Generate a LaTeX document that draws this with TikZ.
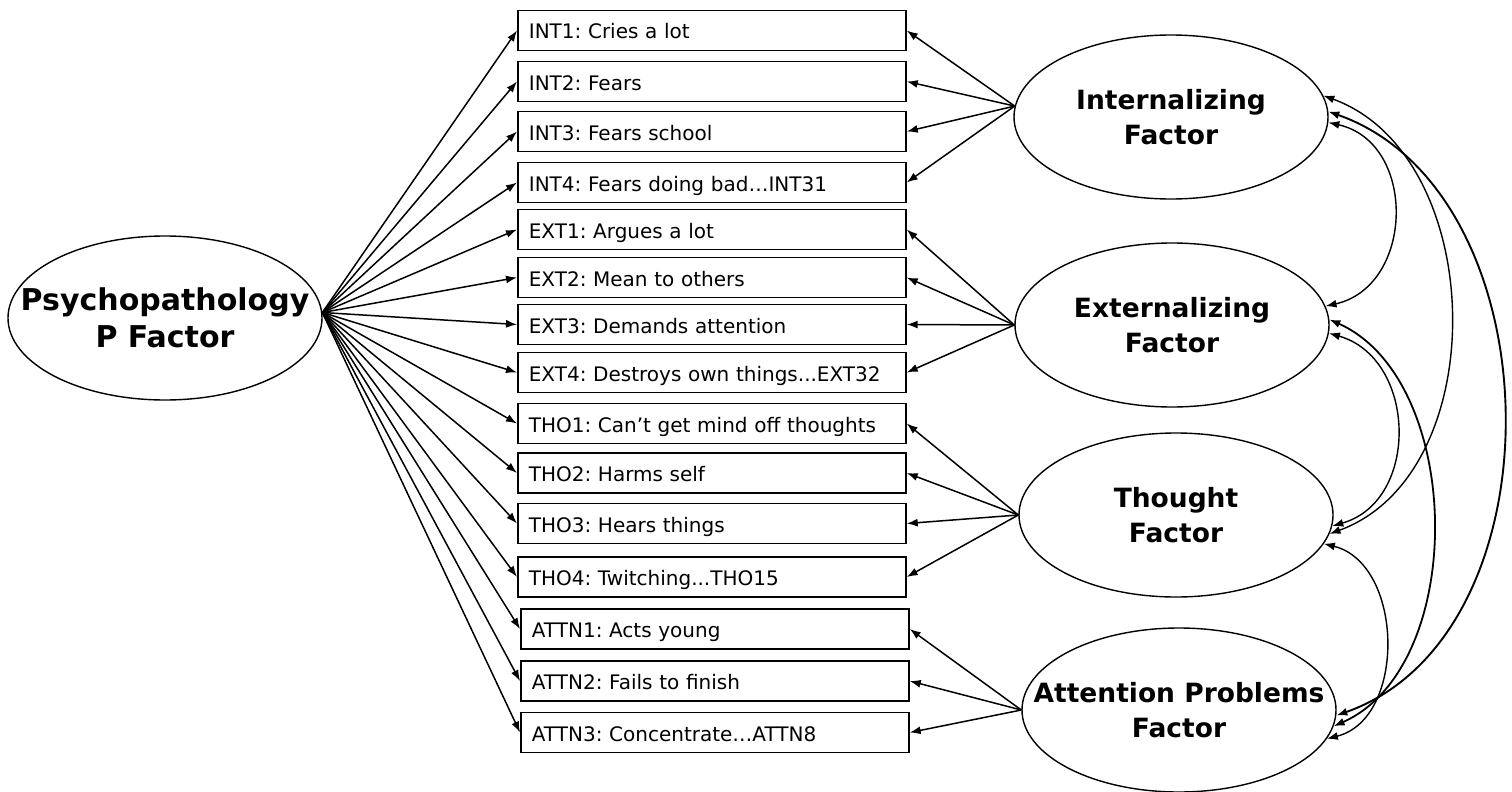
\documentclass[tikz,border=0pt]{standalone}
\usepackage{fontspec}
\setmainfont{DejaVu Sans}
\usetikzlibrary{shapes.geometric,arrows.meta}
\frenchspacing
\begin{document}
\begin{tikzpicture}[x=1pt,y=-1pt,
  item/.style={draw, line width=1.7pt, rectangle, minimum height=40pt, text width=366pt, align=left, inner xsep=11pt, inner ysep=0pt, text height=20pt, text depth=3pt, font=\fontsize{20}{24}\selectfont\frenchspacing, anchor=west},
  factor/.style={draw, line width=1.4pt, ellipse, minimum width=314pt, minimum height=164pt, inner sep=0pt},
  flabel/.style={align=center, font=\fontsize{26.5}{35}\selectfont\bfseries},
  plabel/.style={align=center, font=\fontsize{30}{37}\selectfont\bfseries},
  load/.style={line width=1.5pt, -{Latex[length=11pt,width=8pt]}},
  cov/.style={line width=1.4pt, {Latex[length=11pt,width=8pt]}-{Latex[length=11pt,width=8pt]}},
]
\useasboundingbox (0,0) rectangle (1512,792);

% factors
\node[factor] (P) at (165,318) {};
\node[plabel] (Pt) at (P.center) {Psychopathology\\P Factor};
\node[factor] (I) at (1171,117) {};
\node[flabel] (It) at (I.center) {Internalizing\\Factor};
\node[factor] (E) at (1172,325) {};
\node[flabel] (Et) at (E.center) {Externalizing\\Factor};
\node[factor] (T) at (1176,515) {};
\node[flabel] (Tt) at (T.center) {Thought\\Factor};
\node[factor] (A) at (1179,710) {};
\node[flabel] (At) at (A.center) {Attention Problems\\Factor};

% items
\node[item] (int1) at (517,30.5) {INT1: Cries a lot};
\node[item] (int2) at (517,81.5) {INT2: Fears};
\node[item] (int3) at (517,131.5) {INT3: Fears school};
\node[item] (int4) at (517,182.5) {INT4: Fears doing bad…INT31};
\node[item] (ext1) at (517,229.5) {EXT1: Argues a lot};
\node[item] (ext2) at (517,277.5) {EXT2: Mean to others};
\node[item] (ext3) at (517,324.5) {EXT3: Demands attention};
\node[item] (ext4) at (517,372.5) {EXT4: Destroys own things...EXT32};
\node[item] (tho1) at (517,423.5) {THO1: Can’t get mind off thoughts};
\node[item] (tho2) at (517,473) {THO2: Harms self};
\node[item] (tho3) at (517,523.5) {THO3: Hears things};
\node[item] (tho4) at (517,577) {THO4: Twitching...THO15};
\node[item] (attn1) at (520,629) {ATTN1: Acts young};
\node[item] (attn2) at (520,681) {ATTN2: Fails to finish};
\node[item] (attn3) at (520,732.5) {ATTN3: Concentrate…ATTN8};

% general factor loadings
\foreach \b in {int1,int2,int3,int4,ext1,ext2,ext3,ext4,tho1,tho2,tho3,tho4,attn1,attn2,attn3}
  \draw[load] (P.2) -- (\b.west);

% specific factor loadings
\foreach \b in {int1,int2,int3,int4} \draw[load] (I.176) -- (\b.east);
\foreach \b in {ext1,ext2,ext3,ext4} \draw[load] (E.west) -- (\b.east);
\foreach \b in {tho1,tho2,tho3,tho4} \draw[load] (T.west) -- (\b.east);
\foreach \b in {attn1,attn2,attn3} \draw[load] (A.west) -- (\b.east);

% covariances
\draw[cov] (I.-2) .. controls +(89,20) and +(89,-20) .. (E.7);
\draw[cov] (I.8) .. controls +(165,60) and +(165,-60) .. (T.-7);
\draw[cov, line width=1.9pt] (I.2) .. controls +(228,80) and +(228,-80) .. (A.-2.5);
\draw[cov] (E.-3) .. controls +(88,25) and +(88,-25) .. (T.-4);
\draw[cov, line width=1.8pt] (E.2) .. controls +(135,60) and +(135,-60) .. (A.-6);
\draw[cov] (T.-11) .. controls +(80,20) and +(80,-20) .. (A.-11);
\end{tikzpicture}
\end{document}
